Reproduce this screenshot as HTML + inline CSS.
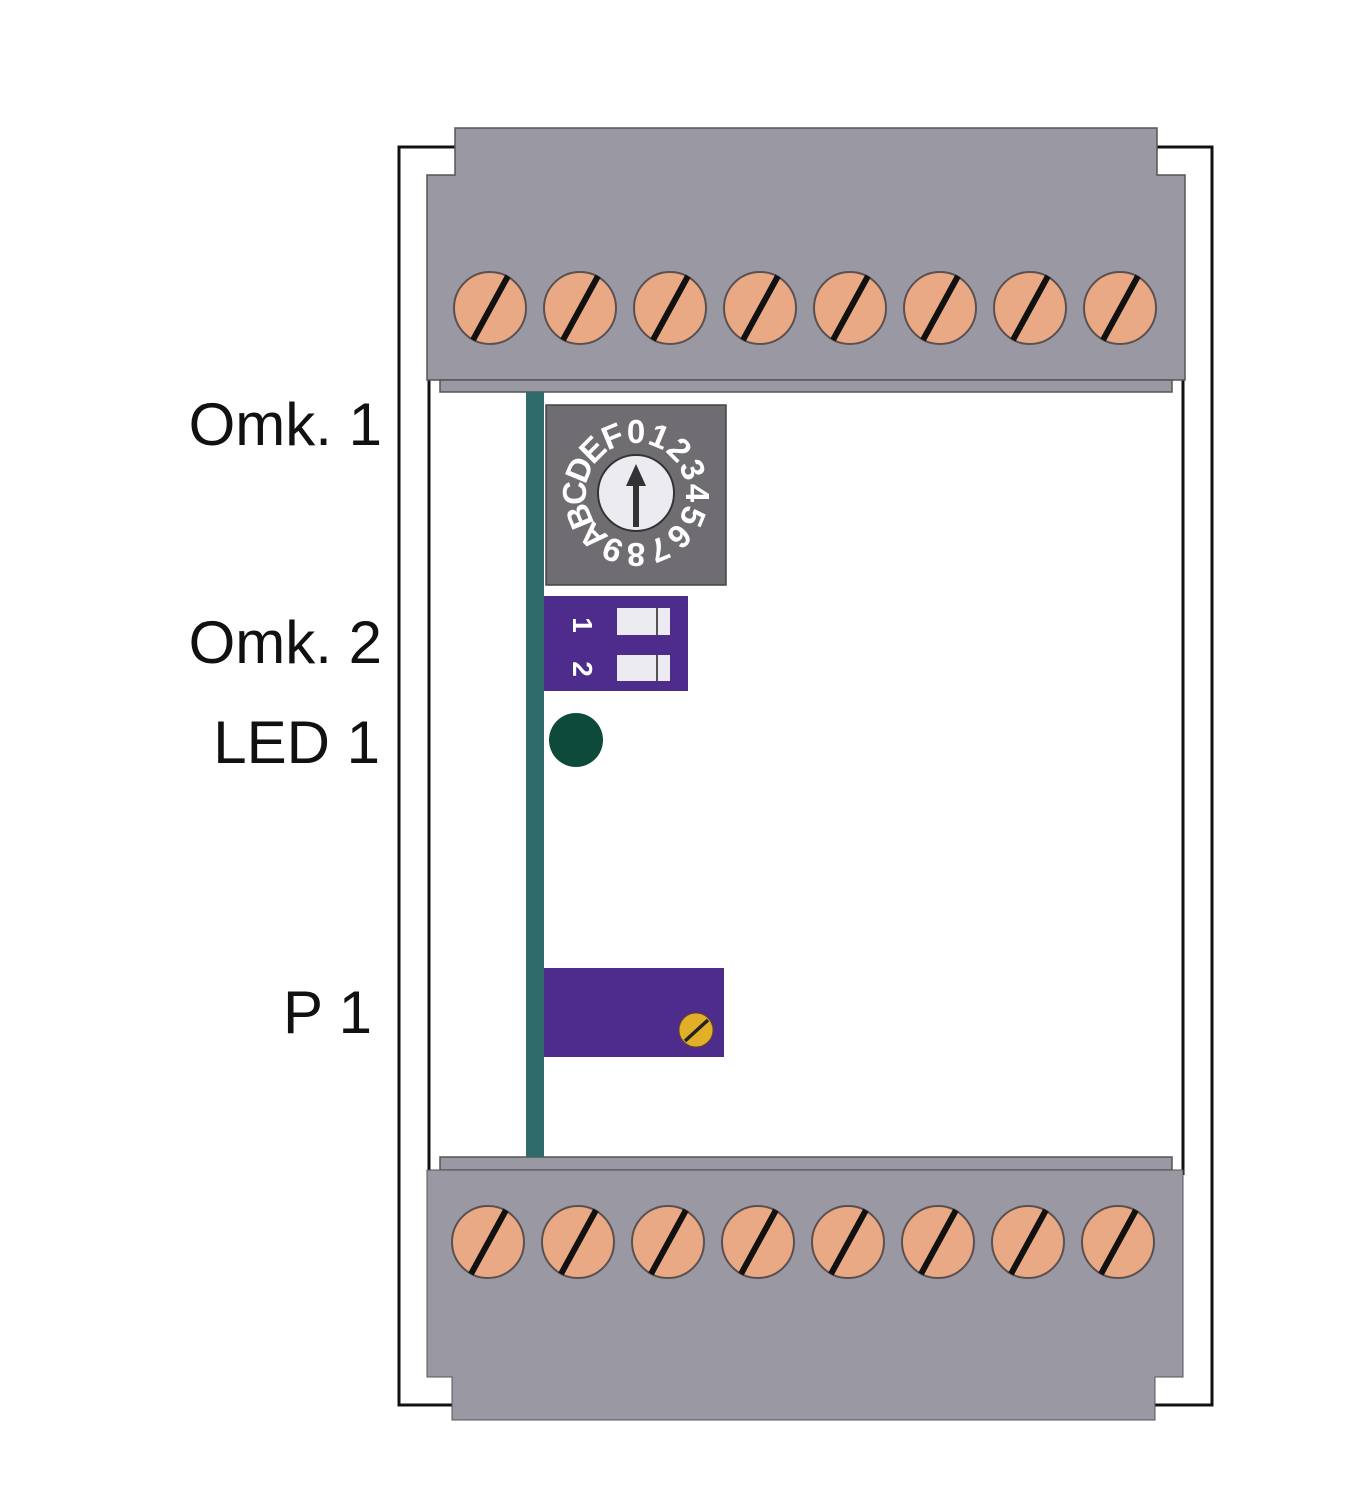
<!DOCTYPE html>
<html><head><meta charset="utf-8"><style>
html,body{margin:0;padding:0;background:#fff;}
svg{display:block;}
</style></head><body>
<svg width="1346" height="1500" viewBox="0 0 1346 1500" xmlns="http://www.w3.org/2000/svg">
<defs>
<g id="scr">
<circle r="36" fill="#e9a985" stroke="#5a5050" stroke-width="2"/>
<line x1="-17" y1="32" x2="18" y2="-32" stroke="#111" stroke-width="6"/>
</g>
</defs>
<polyline points="455,147 399,147 399,1405 455,1405" fill="none" stroke="#111" stroke-width="3"/>
<polyline points="1157,147 1212,147 1212,1405 1155,1405" fill="none" stroke="#111" stroke-width="3"/>
<line x1="429" y1="380" x2="429" y2="1172" stroke="#111" stroke-width="3"/>
<line x1="1183" y1="380" x2="1183" y2="1175" stroke="#111" stroke-width="3"/>
<polygon points="455,128 1157,128 1157,175 1185,175 1185,380 427,380 427,175 455,175" fill="#9a98a3" stroke="#555" stroke-width="1.5"/>
<rect x="440" y="380" width="732" height="12" fill="#9a98a3" stroke="#555" stroke-width="1.5"/>
<rect x="440" y="1157" width="732" height="13" fill="#9a98a3" stroke="#555" stroke-width="1.5"/>
<polygon points="427,1170 1183,1170 1183,1377 1155,1377 1155,1420 452,1420 452,1377 427,1377" fill="#9a98a3" stroke="#555" stroke-width="1"/>
<use href="#scr" x="490" y="308"/><use href="#scr" x="580" y="308"/><use href="#scr" x="670" y="308"/><use href="#scr" x="760" y="308"/>
<use href="#scr" x="850" y="308"/><use href="#scr" x="940" y="308"/><use href="#scr" x="1030" y="308"/><use href="#scr" x="1120" y="308"/>
<use href="#scr" x="488" y="1242"/><use href="#scr" x="578" y="1242"/><use href="#scr" x="668" y="1242"/><use href="#scr" x="758" y="1242"/>
<use href="#scr" x="848" y="1242"/><use href="#scr" x="938" y="1242"/><use href="#scr" x="1028" y="1242"/><use href="#scr" x="1118" y="1242"/>
<rect x="526" y="392" width="18" height="765" fill="#2f6b6a"/>
<rect x="546" y="405" width="180" height="180" fill="#6f6d72" stroke="#444" stroke-width="1.5"/>
<circle cx="636" cy="493" r="38" fill="#ecebf0" stroke="#333" stroke-width="2"/>
<line x1="636" y1="527" x2="636" y2="480" stroke="#333" stroke-width="6"/>
<polygon points="636,464 626,486 646,486" fill="#333"/>
<g font-family="Liberation Sans, sans-serif" font-weight="bold" font-size="33" fill="#fff" text-anchor="middle">
<text x="636" y="443" transform="rotate(0 636 493)">0</text>
<text x="636" y="443" transform="rotate(22.5 636 493)">1</text>
<text x="636" y="443" transform="rotate(45 636 493)">2</text>
<text x="636" y="443" transform="rotate(67.5 636 493)">3</text>
<text x="636" y="443" transform="rotate(90 636 493)">4</text>
<text x="636" y="443" transform="rotate(112.5 636 493)">5</text>
<text x="636" y="443" transform="rotate(135 636 493)">6</text>
<text x="636" y="443" transform="rotate(157.5 636 493)">7</text>
<text x="636" y="443" transform="rotate(180 636 493)">8</text>
<text x="636" y="443" transform="rotate(202.5 636 493)">9</text>
<text x="636" y="443" transform="rotate(225 636 493)">A</text>
<text x="636" y="443" transform="rotate(247.5 636 493)">B</text>
<text x="636" y="443" transform="rotate(270 636 493)">C</text>
<text x="636" y="443" transform="rotate(292.5 636 493)">D</text>
<text x="636" y="443" transform="rotate(315 636 493)">E</text>
<text x="636" y="443" transform="rotate(337.5 636 493)">F</text>
</g>
<rect x="544" y="596" width="144" height="95" fill="#4d2c8c"/>
<rect x="617" y="608" width="53" height="27" fill="#ecebf2"/>
<rect x="617" y="655" width="53" height="26" fill="#ecebf2"/>
<line x1="657" y1="608" x2="657" y2="635" stroke="#555" stroke-width="2"/>
<line x1="657" y1="655" x2="657" y2="681" stroke="#555" stroke-width="2"/>
<g font-family="Liberation Sans, sans-serif" font-weight="bold" font-size="28" fill="#fff" text-anchor="middle">
<text x="0" y="0" transform="translate(573 625) rotate(90)">1</text>
<text x="0" y="0" transform="translate(573 669) rotate(90)">2</text>
</g>
<circle cx="576" cy="740" r="27" fill="#0e4a3a"/>
<rect x="544" y="968" width="180" height="89" fill="#4d2c8c"/>
<circle cx="696" cy="1030" r="17" fill="#e2b028" stroke="#6a4a20" stroke-width="1"/>
<line x1="685" y1="1041" x2="708" y2="1020" stroke="#222" stroke-width="3.5"/>
<g font-family="Liberation Sans, sans-serif" font-size="60" fill="#111" text-anchor="end">
<text x="382" y="445">Omk. 1</text>
<text x="382" y="663">Omk. 2</text>
<text x="380" y="763">LED 1</text>
<text x="372" y="1033">P 1</text>
</g>
</svg>
</body></html>
